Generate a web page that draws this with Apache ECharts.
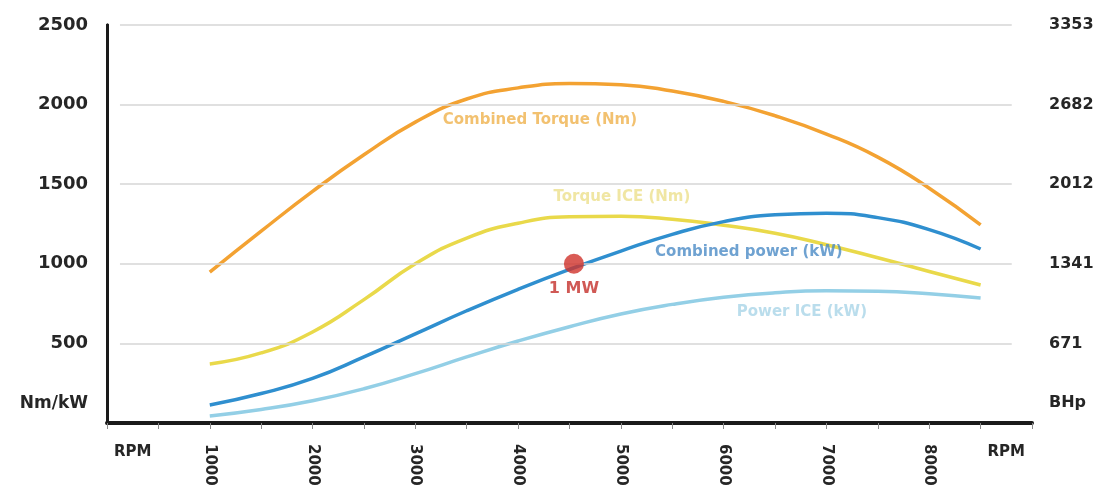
<!DOCTYPE html>
<html>
<head>
<meta charset="utf-8">
<script src="https://cdn.jsdelivr.net/npm/echarts@6/dist/echarts.min.js"></script>
<style>
  html, body { margin: 0; padding: 0; background: #fff; }
  #chart { width: 1109px; height: 493px; }
</style>
</head>
<body>
<div id="chart"></div>
<script>
// engine speed, RPM
const rpm = [1000, 1500, 2000, 2500, 3000, 3500, 4000, 4500, 5000, 5500, 6000, 6500, 7000, 7500, 8000, 8500];

// curves (Nm or kW)
const combinedTorque = [948, 1205, 1455, 1685, 1890, 2035, 2105, 2132, 2125, 2085, 2020, 1930, 1815, 1670, 1475, 1244];
const torqueIce = [371, 440, 572, 775, 1000, 1162, 1255, 1295, 1298, 1280, 1242, 1192, 1120, 1038, 952, 867];
const combinedPower = [113, 185, 280, 415, 560, 705, 840, 965, 1080, 1185, 1265, 1308, 1318, 1290, 1215, 1093];
const powerIce = [44, 85, 140, 215, 310, 415, 515, 605, 685, 745, 790, 818, 830, 828, 812, 785];

// axis labels
const rpmLabels = [1000, 2000, 3000, 4000, 5000, 6000, 7000, 8000];
const gridValues = [500, 1000, 1500, 2000, 2500];
const bhpLabels = ['671', '1341', '2012', '2682', '3353'];

// 1 MW marker
const oneMW = [4543, 1000];

const FONT = 'DejaVu Sans';

function pairs(ys) {
  return rpm.map((x, i) => [x, ys[i]]);
}

function curve(name, ys, color) {
  return {
    name: name,
    type: 'line',
    data: pairs(ys),
    smooth: true,
    showSymbol: false,
    z: 3,
    lineStyle: { color: color, width: 3.5 },
    itemStyle: { color: color }
  };
}

function note(text, x, y, color) {
  return {
    value: [x, y],
    label: {
      show: true,
      position: 'inside',
      formatter: text,
      color: color,
      fontFamily: FONT,
      fontWeight: 'bold',
      fontSize: 15
    }
  };
}

let myChart = echarts.init(document.getElementById('chart'));

const option = {
  animation: false,
  grid: { left: 107, right: 77, top: 25, bottom: 70 },
  xAxis: [
    {
      type: 'value',
      position: 'bottom',
      min: 0,
      max: 9000,
      interval: 500,
      splitLine: { show: false },
      axisLine: { lineStyle: { color: '#1a1a1a', width: 4 } },
      axisTick: { length: 6, lineStyle: { color: '#8a8a8a', width: 1 } },
      axisLabel: {
        rotate: -90,
        margin: 21,
        color: '#262626',
        fontFamily: FONT,
        fontWeight: 'bold',
        fontSize: 15,
        formatter: v => (rpmLabels.indexOf(v) >= 0 ? String(v) : '')
      }
    },
    {
      type: 'value',
      position: 'bottom',
      min: 0,
      max: 9000,
      interval: 250,
      splitLine: { show: false },
      axisLine: { show: false },
      axisTick: { show: false },
      axisLabel: {
        margin: 22,
        color: '#262626',
        fontFamily: FONT,
        fontWeight: 'bold',
        fontSize: 15,
        formatter: v => (v === 250 || v === 8750 ? 'RPM' : '')
      }
    }
  ],
  yAxis: [
    {
      type: 'value',
      position: 'left',
      min: 0,
      max: 2500,
      interval: 500,
      splitLine: { show: false },
      axisLine: { show: true, lineStyle: { color: '#1a1a1a', width: 3 } },
      axisTick: { show: false },
      axisLabel: {
        margin: 19,
        color: '#262626',
        fontFamily: FONT,
        fontWeight: 'bold',
        fontSize: 18,
        formatter: v => (v === 0 ? '' : String(v))
      }
    },
    {
      type: 'value',
      position: 'right',
      min: 0,
      max: 2500,
      interval: 500,
      splitLine: { show: false },
      axisLine: { show: true, lineStyle: { color: '#1a1a1a', width: 3 } },
      axisTick: { show: false },
      axisLabel: {
        margin: 17,
        color: '#262626',
        fontFamily: FONT,
        fontWeight: 'bold',
        fontSize: 16,
        formatter: v => (v === 0 ? '' : bhpLabels[v / 500 - 1])
      }
    }
  ],
  graphic: [
    {
      type: 'text', right: 1109 - 88, top: 395,
      style: { text: 'Nm/kW', fill: '#262626', font: 'bold 17px "DejaVu Sans"' }
    },
    {
      type: 'text', left: 1049, top: 395,
      style: { text: 'BHp', fill: '#262626', font: 'bold 16px "DejaVu Sans"' }
    }
  ],
  series: [
    {
      name: 'grid',
      type: 'line',
      data: [],
      z: 1,
      silent: true,
      markLine: {
        silent: true,
        symbol: 'none',
        label: { show: false },
        lineStyle: { color: '#d6d6d6', width: 1.5, type: 'solid' },
        data: gridValues.map(v => [{ coord: [126, v] }, { coord: [8803, v] }])
      }
    },
    curve('Power ICE (kW)', powerIce, '#93cfe6'),
    curve('Torque ICE (Nm)', torqueIce, '#e9d94a'),
    curve('Combined power (kW)', combinedPower, '#2f8fcf'),
    curve('Combined Torque (Nm)', combinedTorque, '#f3a232'),
    {
      name: 'notes',
      type: 'scatter',
      symbolSize: 1,
      z: 4,
      silent: true,
      itemStyle: { color: 'rgba(0,0,0,0)' },
      data: [
        note('Combined Torque (Nm)', 4212, 1903, '#efb24c'),
        note('Torque ICE (Nm)', 5010, 1420, '#ece08c'),
        note('Combined power (kW)', 6245, 1074, '#4b8bc5'),
        note('Power ICE (kW)', 6761, 697, '#a9d4e7')
      ]
    },
    {
      name: '1 MW',
      type: 'scatter',
      symbolSize: 20,
      z: 5,
      itemStyle: { color: '#d0322b' },
      label: {
        show: true,
        position: 'bottom',
        distance: 7,
        formatter: '1 MW',
        color: '#c4302b',
        fontFamily: FONT,
        fontWeight: 'bold',
        fontSize: 16
      },
      data: [oneMW]
    }
  ]
};

myChart.setOption(option);
</script>
</body>
</html>
